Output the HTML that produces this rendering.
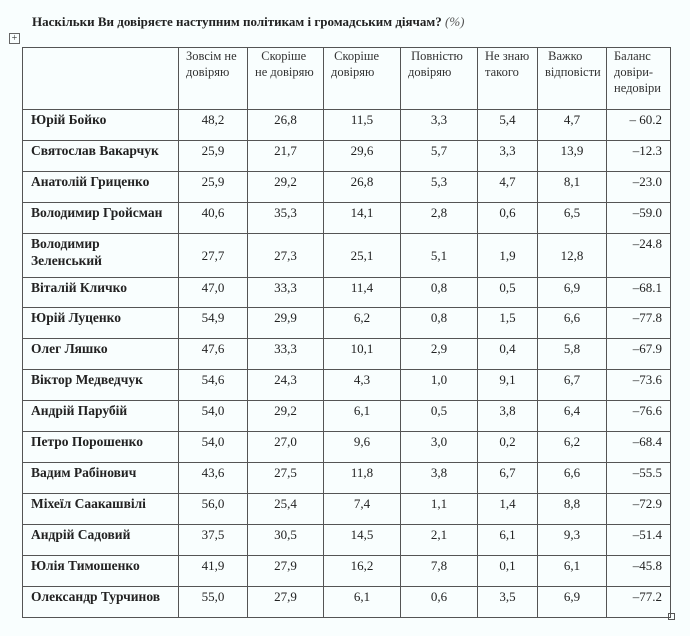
<!DOCTYPE html>
<html><head><meta charset="utf-8"><style>
body{margin:0;background:#f9fefe;width:690px;height:636px;overflow:hidden;font-family:"Liberation Serif",serif;color:#222;}
.title{position:absolute;left:32px;top:14px;font-size:13px;font-weight:bold;}
.title i{font-weight:normal;color:#555;}
.mv{position:absolute;left:9px;top:33px;width:9px;height:9px;border:1px solid #666;font-size:10px;line-height:9px;text-align:center;color:#333;}
table{position:absolute;left:22px;top:47px;border-collapse:collapse;table-layout:fixed;}
td{border:1.5px solid #555;padding:0;font-size:13px;vertical-align:top;}
td.n{font-weight:bold;font-size:13.5px;padding:1px 0 0 8px;line-height:17px;}
td.v{text-align:center;padding-top:2px;}
td.b{text-align:right;padding:2px 8px 0 0;}
tr.h td{font-size:12.5px;color:#333;padding:0 0 0 7px;line-height:16px;}
tr.z td.v{vertical-align:middle;padding-top:0;}
tr{height:31px;}
.end{position:absolute;left:668px;top:613px;width:5px;height:5px;border:1px solid #555;}
</style></head><body>
<div class="title">Наскільки Ви довіряєте наступним політикам і громадським діячам? <i>(%)</i></div>
<div class="mv">+</div>
<table>
<colgroup><col style="width:156px"><col style="width:69px"><col style="width:76px"><col style="width:77px"><col style="width:77px"><col style="width:60px"><col style="width:69px"><col style="width:64px"></colgroup>
<tr class="h" style="height:62px"><td>&nbsp;</td><td>Зовсім не довіряю</td><td>&nbsp;&nbsp;Скоріше<br>не довіряю</td><td>&nbsp;Скоріше довіряю</td><td>&nbsp;Повністю довіряю</td><td>Не знаю такого</td><td>&nbsp;Важко відповісти</td><td>Баланс довіри-недовіри</td></tr>
<tr><td class="n">Юрій Бойко</td><td class="v">48,2</td><td class="v">26,8</td><td class="v">11,5</td><td class="v">3,3</td><td class="v">5,4</td><td class="v">4,7</td><td class="b">– 60.2</td></tr>
<tr><td class="n">Святослав Вакарчук</td><td class="v">25,9</td><td class="v">21,7</td><td class="v">29,6</td><td class="v">5,7</td><td class="v">3,3</td><td class="v">13,9</td><td class="b">–12.3</td></tr>
<tr><td class="n">Анатолій Гриценко</td><td class="v">25,9</td><td class="v">29,2</td><td class="v">26,8</td><td class="v">5,3</td><td class="v">4,7</td><td class="v">8,1</td><td class="b">–23.0</td></tr>
<tr><td class="n">Володимир Гройсман</td><td class="v">40,6</td><td class="v">35,3</td><td class="v">14,1</td><td class="v">2,8</td><td class="v">0,6</td><td class="v">6,5</td><td class="b">–59.0</td></tr>
<tr class="z" style="height:44px"><td class="n">Володимир<br>Зеленський</td><td class="v">27,7</td><td class="v">27,3</td><td class="v">25,1</td><td class="v">5,1</td><td class="v">1,9</td><td class="v">12,8</td><td class="b">–24.8</td></tr>
<tr style="height:30px"><td class="n">Віталій Кличко</td><td class="v">47,0</td><td class="v">33,3</td><td class="v">11,4</td><td class="v">0,8</td><td class="v">0,5</td><td class="v">6,9</td><td class="b">–68.1</td></tr>
<tr><td class="n">Юрій Луценко</td><td class="v">54,9</td><td class="v">29,9</td><td class="v">6,2</td><td class="v">0,8</td><td class="v">1,5</td><td class="v">6,6</td><td class="b">–77.8</td></tr>
<tr><td class="n">Олег Ляшко</td><td class="v">47,6</td><td class="v">33,3</td><td class="v">10,1</td><td class="v">2,9</td><td class="v">0,4</td><td class="v">5,8</td><td class="b">–67.9</td></tr>
<tr><td class="n">Віктор Медведчук</td><td class="v">54,6</td><td class="v">24,3</td><td class="v">4,3</td><td class="v">1,0</td><td class="v">9,1</td><td class="v">6,7</td><td class="b">–73.6</td></tr>
<tr><td class="n">Андрій Парубій</td><td class="v">54,0</td><td class="v">29,2</td><td class="v">6,1</td><td class="v">0,5</td><td class="v">3,8</td><td class="v">6,4</td><td class="b">–76.6</td></tr>
<tr><td class="n">Петро Порошенко</td><td class="v">54,0</td><td class="v">27,0</td><td class="v">9,6</td><td class="v">3,0</td><td class="v">0,2</td><td class="v">6,2</td><td class="b">–68.4</td></tr>
<tr><td class="n">Вадим Рабінович</td><td class="v">43,6</td><td class="v">27,5</td><td class="v">11,8</td><td class="v">3,8</td><td class="v">6,7</td><td class="v">6,6</td><td class="b">–55.5</td></tr>
<tr><td class="n">Міхеїл Саакашвілі</td><td class="v">56,0</td><td class="v">25,4</td><td class="v">7,4</td><td class="v">1,1</td><td class="v">1,4</td><td class="v">8,8</td><td class="b">–72.9</td></tr>
<tr><td class="n">Андрій Садовий</td><td class="v">37,5</td><td class="v">30,5</td><td class="v">14,5</td><td class="v">2,1</td><td class="v">6,1</td><td class="v">9,3</td><td class="b">–51.4</td></tr>
<tr><td class="n">Юлія Тимошенко</td><td class="v">41,9</td><td class="v">27,9</td><td class="v">16,2</td><td class="v">7,8</td><td class="v">0,1</td><td class="v">6,1</td><td class="b">–45.8</td></tr>
<tr style="height:31px"><td class="n">Олександр Турчинов</td><td class="v">55,0</td><td class="v">27,9</td><td class="v">6,1</td><td class="v">0,6</td><td class="v">3,5</td><td class="v">6,9</td><td class="b">–77.2</td></tr>
</table>
<div class="end"></div>
</body></html>
